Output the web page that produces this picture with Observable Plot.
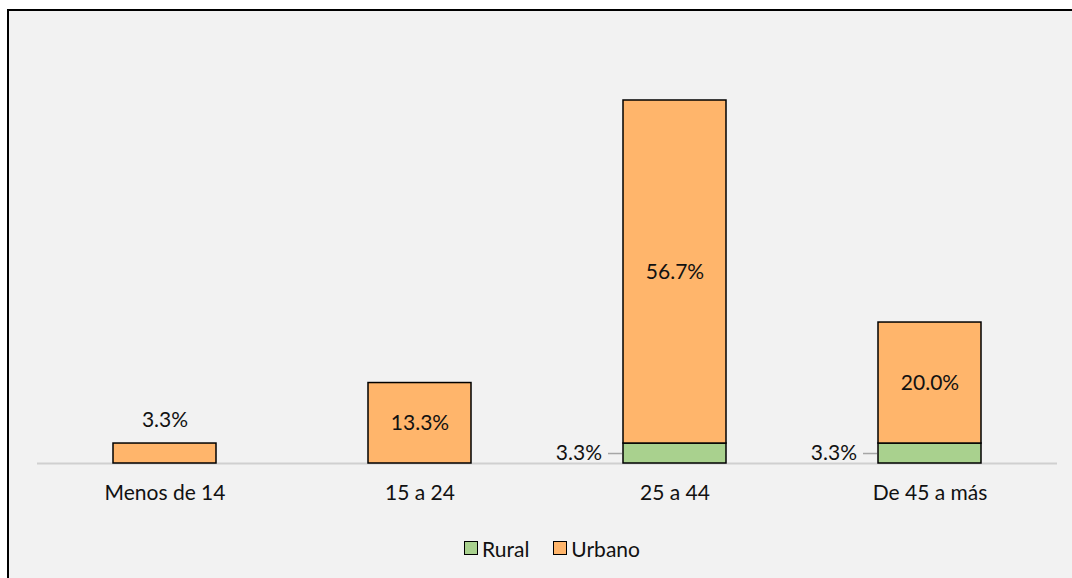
<!DOCTYPE html>
<html>
<head>
<meta charset="utf-8">
<script src="https://cdn.jsdelivr.net/npm/d3@7"></script>
<script src="https://cdn.jsdelivr.net/npm/@observablehq/plot@0.6"></script>
<style>
  html, body { margin: 0; padding: 0; background: #fff; width: 1072px; height: 578px; overflow: hidden; }
  #frame { position: absolute; left: 7px; top: 9px; width: 1100px; height: 620px; background: #f2f2f2; border: 2px solid #000; box-sizing: border-box; }
  #chart { position: absolute; left: 0; top: 0; width: 1072px; }
  #chart svg { background: transparent; display: block; }
  .legend { display: flex; justify-content: center; gap: 24px; height: 36px; align-items: center; margin-left: 32px;
            font-family: Lato, "Open Sans", sans-serif; font-size: 21px; color: #111; }
  .legend span { display: inline-flex; align-items: center; gap: 4px; }
  .legend i { display: inline-block; width: 12px; height: 12px; border: 1.5px solid #000; }
</style>
</head>
<body>
<div id="frame"></div>
<div id="chart"></div>
<script>
// Age groups and share (%) of each area
const categories = ["Menos de 14", "15 a 24", "25 a 44", "De 45 a más"];
const rural = [0, 0, 3.3, 3.3];
const urbano = [3.3, 13.3, 56.7, 20.0];
const series = ["Rural", "Urbano"];
const colors = ["#A9D18E", "#FFB56B"];

const rows = [];
categories.forEach((c, i) => {
  rows.push({cat: c, area: "Rural", value: rural[i], y1: 0, y2: rural[i]});
  rows.push({cat: c, area: "Urbano", value: urbano[i], y1: rural[i], y2: rural[i] + urbano[i]});
});
const bars = rows.filter(d => d.value > 0);
const fmt = v => v.toFixed(1) + "%";

// Urbano labels: inside the segment when tall enough, above it otherwise
const urbanIn = bars.filter(d => d.area === "Urbano" && d.value >= 10);
const urbanOut = bars.filter(d => d.area === "Urbano" && d.value < 10);
const ruralLab = bars.filter(d => d.area === "Rural");

const font = "Lato, 'Open Sans', sans-serif";
const fs = 21;

const plot = Plot.plot({
  width: 1072,
  height: 530,
  marginLeft: 37,
  marginRight: 15,
  marginTop: 100,
  marginBottom: 67,
  style: {fontFamily: font, fontSize: fs + "px", color: "#111", background: "transparent"},
  x: {domain: categories, paddingInner: 0.596, paddingOuter: 0.298, label: null},
  y: {domain: [0, 60], axis: null},
  color: {domain: series, range: colors},
  marks: [
    Plot.ruleY([0], {stroke: "#d0d0d0", strokeWidth: 2}),
    Plot.rectY(bars, {x: "cat", y1: "y1", y2: "y2", fill: "area", stroke: "#000", strokeWidth: 1.5}),
    Plot.text(urbanIn, {x: "cat", y: d => (d.y1 + d.y2) / 2, text: d => fmt(d.value), fontSize: fs, fill: "#111"}),
    Plot.text(urbanOut, {x: "cat", y: "y2", dy: -23, text: d => fmt(d.value), fontSize: fs, fill: "#111"}),
    Plot.tickY(ruralLab, {x: "cat", y: d => (d.y1 + d.y2) / 2, stroke: "#a6a6a6", strokeWidth: 1.5, insetLeft: -15, insetRight: 104}),
    Plot.text(ruralLab, {x: "cat", y: d => (d.y1 + d.y2) / 2, dx: -73, textAnchor: "end", text: d => fmt(d.value), fontSize: fs, fill: "#111"}),
    Plot.axisX({tickSize: 0, tickPadding: 22, fontSize: fs, fill: "#111"})
  ]
});

const chart = document.getElementById("chart");
chart.append(plot);

const legend = document.createElement("div");
legend.className = "legend";
series.forEach((s, i) => {
  const item = document.createElement("span");
  const sw = document.createElement("i");
  sw.style.background = colors[i];
  item.append(sw, document.createTextNode(s));
  legend.append(item);
});
chart.append(legend);
</script>
</body>
</html>
